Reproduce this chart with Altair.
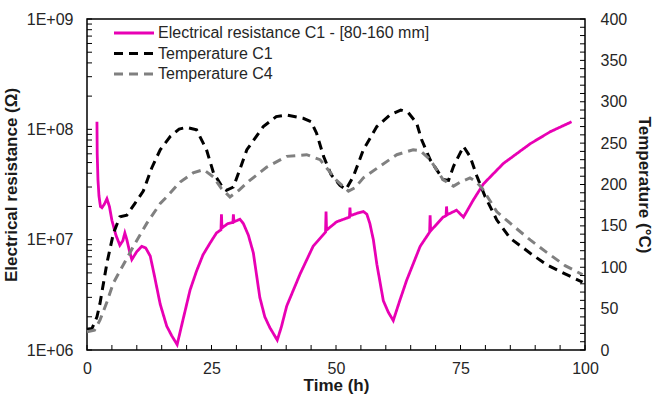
import altair as alt
import pandas as pd

# ---------------- data ----------------
res_t = [2.0, 2.05, 2.2, 2.4, 2.7, 3.0, 3.5, 4.0, 4.5, 5.0, 5.8, 6.6, 7.2, 7.6, 8.0, 8.5, 9.0,
         10.0, 11.0, 11.8, 12.7, 13.5, 14.7, 16.0, 17.0, 18.1, 19.3, 20.7, 22.0, 23.3, 24.7,
         26.0, 26.9, 27.0, 27.1, 28.3, 29.3, 29.4, 29.5, 30.7, 31.4, 32.4, 33.4, 34.7, 35.7,
         36.7, 38.2, 39.0, 40.1, 42.8, 45.4, 47.9, 48.0, 48.1, 50.1, 52.7, 52.8, 52.9, 54.5,
         55.5, 56.2, 56.8, 57.5, 58.2, 59.5, 60.5, 61.5, 62.8, 64.2, 66.9, 68.8, 68.9, 69.0,
         71.5, 72.1, 72.2, 72.3, 74.2, 75.6, 77.6, 79.6, 83.6, 89.0, 93.0, 97.3]
res_v = [117e6, 60e6, 35e6, 25e6, 20e6, 19.5e6, 21e6, 23.5e6, 20e6, 15e6, 11e6, 8.9e6, 9.8e6,
         11.5e6, 10e6, 8e6, 6.6e6, 7.8e6, 8.7e6, 8.4e6, 7.1e6, 4.8e6, 2.6e6, 1.65e6, 1.35e6,
         1.12e6, 1.9e6, 3.5e6, 5.2e6, 7.3e6, 9.3e6, 11.5e6, 12.3e6, 17e6, 12.8e6, 14e6, 14.3e6,
         17e6, 14.5e6, 15.3e6, 14e6, 11e6, 7.6e6, 3.0e6, 2.0e6, 1.6e6, 1.23e6, 1.6e6, 2.5e6,
         4.9e6, 8.7e6, 11.7e6, 18e6, 12.2e6, 14.5e6, 16e6, 19.5e6, 16.5e6, 17.5e6, 18e6, 17e6,
         14e6, 10e6, 6.0e6, 2.8e6, 2.2e6, 1.85e6, 2.8e6, 4.3e6, 8.7e6, 11.7e6, 16.6e6, 12e6,
         16e6, 16.5e6, 20e6, 16.8e6, 18.5e6, 16e6, 23e6, 32e6, 49e6, 74e6, 95e6, 117e6]

c1_t = [0, 1.0, 2.0, 2.6, 4.0, 5.3, 6.6, 8.0, 9.6, 11.3, 13.0, 14.7, 16.7, 18.5, 20.0, 22.0,
        24.0, 25.4, 27.4, 28.0, 29.4, 30.5, 32.1, 35.4, 38.0, 40.0, 43.4, 45.0, 46.1, 47.5,
        49.0, 50.8, 52.0, 53.5, 55.5, 58.2, 60.8, 63.0, 64.5, 66.2, 67.2, 68.9, 71.5, 72.6,
        73.6, 75.6, 76.9, 78.3, 79.9, 82.3, 85.0, 89.0, 92.3, 96.0, 99.5]
c1_v = [25, 26, 40, 56, 105, 141, 161, 163, 177, 192, 220, 242, 258, 267, 269, 266,
        242, 214, 195, 193, 197, 215, 242, 270, 282, 284, 280, 276, 262, 234,
        212, 199, 194, 210, 242, 270, 284, 290, 287, 274, 254, 230, 206, 205,
        222, 246, 234, 210, 186, 157, 135, 117, 103, 92, 82]

c4_t = [0, 1.5, 2.6, 4.0, 5.3, 7.3, 9.3, 12.0, 14.7, 16.0, 18.7, 21.3, 23.4, 25.4, 27.0,
        28.7, 30.5, 32.7, 36.1, 40.1, 44.1, 46.8, 48.8, 50.1, 52.5, 53.8, 55.5, 58.8, 62.2,
        65.5, 66.9, 68.9, 70.5, 71.5, 73.6, 75.0, 76.9, 78.0, 79.3, 82.3, 85.6, 89.0, 92.3,
        96.0, 99.5]
c4_v = [22, 24, 36, 58, 81, 103, 125, 153, 177, 185, 203, 214, 218, 209, 195,
        185, 193, 205, 221, 234, 236, 230, 215, 205, 192, 196, 208, 222, 236,
        242, 241, 230, 215, 206, 198, 203, 208, 204, 196, 167, 150, 133, 118,
        102, 91]

names = ["Electrical resistance C1 - [80-160 mm]", "Temperature C1", "Temperature C4"]
colors = ["#E800B4", "#000000", "#808080"]
dashes = [[1, 0], [9, 6], [9, 6]]

x_labels = [0, 25, 50, 75, 100]
x_ticks = list(range(0, 101, 5))
left_labels = [1e6, 1e7, 1e8, 1e9]
left_ticks = [m * 10 ** e for e in range(6, 9) for m in range(1, 10)] + [1e9]
right_labels = list(range(0, 401, 50))
right_ticks = list(range(0, 401, 10))

# ---------------- chart ----------------
W, H = 498, 331
FONT = "Liberation Sans"
LBL = "#262626"
TTL = "#1a1a1a"

res_df = pd.DataFrame({"t": res_t, "v": res_v, "series": names[0]})
temp_df = pd.concat([
    pd.DataFrame({"t": c1_t, "v": c1_v, "series": names[1]}),
    pd.DataFrame({"t": c4_t, "v": c4_v, "series": names[2]}),
])

xscale = alt.Scale(domain=[0, 100], nice=False, zero=False)
lscale = alt.Scale(type="log", domain=[1e6, 1e9], nice=False)
rscale = alt.Scale(domain=[0, 400], nice=False, zero=False)

# wide, flat custom stroke symbol: spans 40 px while the entry stays short
legend = alt.Legend(title=None, orient="none", legendX=24, legendY=6, symbolType="M-1,0H7",
                    symbolSize=100, symbolStrokeWidth=3, labelFontSize=16, labelFont=FONT,
                    labelColor=LBL, labelLimit=600, rowPadding=4.5, labelOffset=31, padding=0)
color = alt.Color("series:N", scale=alt.Scale(domain=names, range=colors), legend=legend)
dash = alt.StrokeDash("series:N", scale=alt.Scale(domain=names, range=dashes), legend=legend)

x_axis = alt.Axis(values=x_labels, title="Time (h)", grid=False, ticks=False, domain=False,
                  labelFontSize=16, labelPadding=10, titleFontSize=17, titlePadding=1,
                  labelFlush=False, labelFont=FONT, titleFont=FONT, labelColor=LBL,
                  titleColor=TTL, titleFontWeight="bold")
left_axis = alt.Axis(values=left_labels, labelExpr="'1E+0' + round(log(datum.value)/LN10)",
                     title="Electrical resistance (Ω)", grid=False, ticks=False, domain=False,
                     labelFontSize=16, labelPadding=14, titleFontSize=17, titlePadding=6,
                     labelFont=FONT, titleFont=FONT, labelColor=LBL,
                     titleColor=TTL, titleFontWeight="bold")
right_axis = alt.Axis(values=right_labels, orient="right", title="Temperature (°C)", grid=False,
                      ticks=False, domain=False, labelFontSize=16, labelPadding=15,
                      titleFontSize=17, titlePadding=8, labelFont=FONT, titleFont=FONT,
                      labelColor=LBL, titleColor=TTL, titleFontWeight="bold")

xt = alt.Chart(pd.DataFrame({"t": x_ticks})).mark_rule(color="black", strokeWidth=1).encode(
    x=alt.X("t:Q", scale=xscale, axis=x_axis), y=alt.value(H - 5), y2=alt.value(H))
lt = alt.Chart(pd.DataFrame({"v": left_ticks})).mark_rule(color="black", strokeWidth=1).encode(
    y=alt.Y("v:Q", scale=lscale, axis=left_axis), x=alt.value(0), x2=alt.value(5))
rt = alt.Chart(pd.DataFrame({"v": right_ticks})).mark_rule(color="black", strokeWidth=1).encode(
    y=alt.Y("v:Q", scale=rscale, axis=right_axis), x=alt.value(W - 5), x2=alt.value(W))

pink = alt.Chart(res_df).mark_line(strokeWidth=2.8).encode(
    x=alt.X("t:Q", scale=xscale, axis=x_axis),
    y=alt.Y("v:Q", scale=lscale, axis=left_axis),
    color=color, strokeDash=dash)

temps = alt.Chart(temp_df).mark_line(strokeWidth=3).encode(
    x=alt.X("t:Q", scale=xscale, axis=x_axis),
    y=alt.Y("v:Q", scale=rscale, axis=right_axis),
    color=color, strokeDash=dash, detail="series:N")

left = alt.layer(xt, lt, pink)
right = alt.layer(temps, rt)

chart = alt.layer(left, right).resolve_scale(y="independent").properties(
    width=W, height=H,
    padding={"left": 87, "top": 19, "right": 654 - 87 - W, "bottom": 395 - 19 - H},
    autosize=alt.AutoSizeParams(type="none"),
    background="white",
).configure_view(stroke="black", strokeWidth=1.5)

chart.save("out.html", embed_options={"renderer": "svg", "actions": False})
